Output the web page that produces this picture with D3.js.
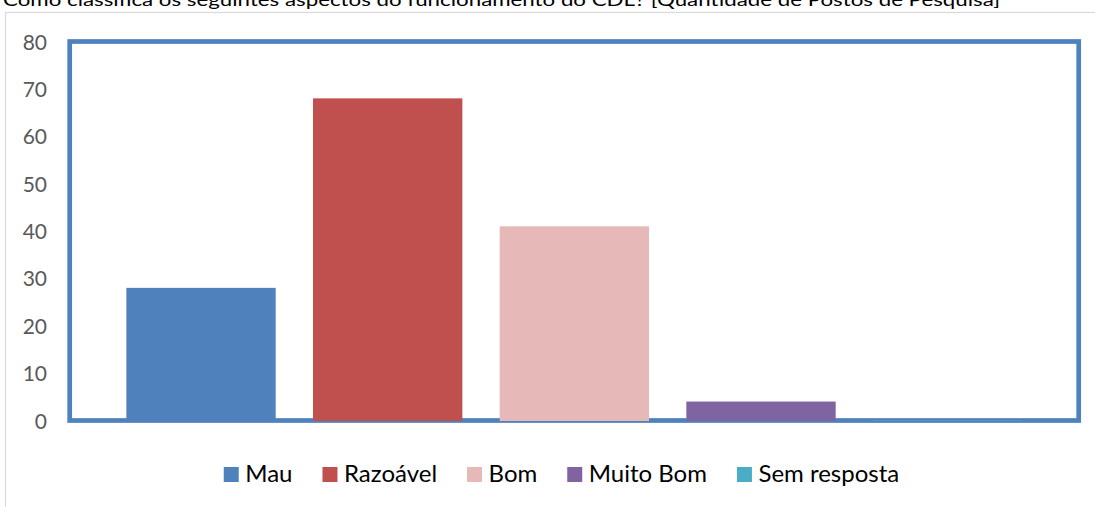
<!DOCTYPE html>
<html>
<head>
<meta charset="utf-8">
<script src="https://cdn.jsdelivr.net/npm/d3@7"></script>
<style>
  html, body { margin: 0; padding: 0; background: #fff; }
  svg { display: block; }
  text { font-family: Lato, "Open Sans", sans-serif; }
</style>
</head>
<body>
<script>
const title = "Como classifica os seguintes aspectos do funcionamento do CDL? [Quantidade de Postos de Pesquisa]";
const categories = ["Mau", "Razoável", "Bom", "Muito Bom", "Sem resposta"];
const values = [28, 68, 41, 4, 0];
const colors = ["#4F81BD", "#C0504D", "#E6B9B8", "#8064A2", "#4BACC6"];
const yTicks = [0, 10, 20, 30, 40, 50, 60, 70, 80];

const W = 1095, H = 507;
const svg = d3.select("body").append("svg").attr("width", W).attr("height", H);

// title (cut off at the top like in the reference)
svg.append("text")
  .attr("x", 3).attr("y", 6)
  .attr("font-size", 18).attr("fill", "#000")
  .attr("textLength", 997).attr("lengthAdjust", "spacingAndGlyphs")
  .text(title);

// chart area border
svg.append("rect")
  .attr("x", 5.5).attr("y", 12.5).attr("width", W + 10).attr("height", H + 10)
  .attr("fill", "none").attr("stroke", "#D9D9D9").attr("stroke-width", 1.2);

const y = d3.scaleLinear().domain([0, 80]).range([420.5, 41.5]);
const x = d3.scaleBand().domain(categories).range([107.7, 1041])
  .paddingInner(0.2).paddingOuter(0.1);

// plot area frame
svg.append("rect")
  .attr("x", 69.7).attr("y", y(80))
  .attr("width", 1078.7 - 69.7).attr("height", y(0) - y(80))
  .attr("fill", "none").attr("stroke", "#4F81BD").attr("stroke-width", 4.7);

// y axis
const yAxis = d3.axisLeft(y).tickValues(yTicks).tickSize(0).tickPadding(0);
const gy = svg.append("g").attr("transform", "translate(47,0)").call(yAxis);
gy.select(".domain").remove();
gy.selectAll("text")
  .attr("font-size", 21).attr("fill", "#595959")
  .attr("font-family", "Lato, 'Open Sans', sans-serif")
  .attr("dy", "0.36em");

// bars
svg.append("g").selectAll("rect")
  .data(categories)
  .join("rect")
  .attr("x", d => x(d))
  .attr("width", x.bandwidth())
  .attr("y", (d, i) => y(values[i]))
  .attr("height", (d, i) => y(0) - y(values[i]) + 0.5)
  .attr("fill", (d, i) => colors[i]);

// legend
const legend = svg.append("g");
const sw = 15, gapText = 6.5, gapItem = 30, fs = 24;
const items = legend.selectAll("g").data(categories).join("g");
items.append("rect").attr("width", sw).attr("height", sw)
  .attr("y", 467).attr("fill", (d, i) => colors[i]);
items.append("text").attr("x", sw + gapText).attr("y", 482)
  .attr("font-size", fs).attr("fill", "#000").text(d => d);
let cx = 0;
const widths = [];
items.each(function () {
  const w = sw + gapText + d3.select(this).select("text").node().getComputedTextLength();
  widths.push(w);
});
const total = d3.sum(widths) + gapItem * (widths.length - 1);
cx = 561.5 - total / 2;
items.attr("transform", (d, i) => {
  const t = `translate(${cx},0)`;
  cx += widths[i] + gapItem;
  return t;
});
</script>
</body>
</html>
